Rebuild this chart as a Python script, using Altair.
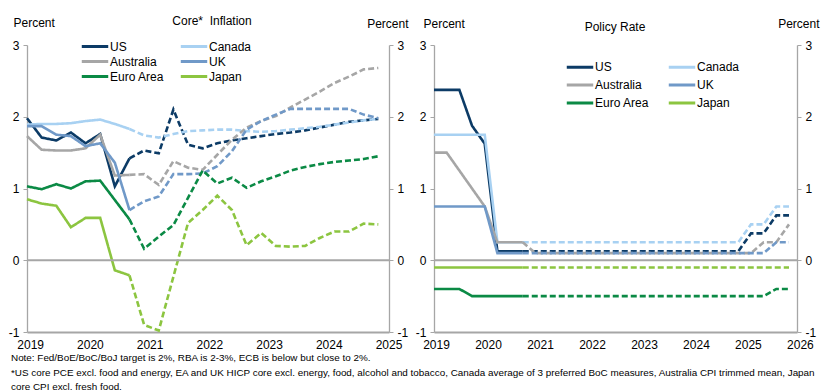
import altair as alt
import pandas as pd

# legend reads row-wise: US, Canada / Australia, UK / Euro Area, Japan (columns filled top-down)
countries = ["US", "Australia", "Euro Area", "Canada", "UK", "Japan"]
colors = ["#0c3b66", "#a6a6a6", "#0b8a45", "#a8d1f2", "#7099c8", "#8cc540"]

# Core inflation (per cent, y/y), quarterly 2018Q4 .. 2024Q4; points 0-7 actual, 7-24 projection
infl_us = [1.98, 1.71, 1.67, 1.78, 1.63, 1.76, 1.03, 1.42, 1.53, 1.49, 2.10, 1.61, 1.56,
           1.63, 1.67, 1.70, 1.73, 1.76, 1.78, 1.81, 1.85, 1.89, 1.93, 1.95, 1.97]
infl_ca = [1.89, 1.90, 1.90, 1.91, 1.94, 1.96, 1.90, 1.83, 1.74, 1.71, 1.76, 1.80, 1.81,
           1.82, 1.82, 1.80, 1.79, 1.80, 1.82, 1.84, 1.86, 1.89, 1.92, 1.95, 1.97]
infl_au = [1.73, 1.54, 1.53, 1.53, 1.56, 1.75, 1.18, 1.19, 1.20, 1.05, 1.38, 1.29, 1.26,
           1.47, 1.68, 1.85, 1.94, 2.01, 2.13, 2.24, 2.35, 2.47, 2.56, 2.66, 2.68]
infl_uk = [1.87, 1.87, 1.75, 1.73, 1.59, 1.63, 1.36, 0.70, 0.82, 0.89, 1.20, 1.20, 1.21,
           1.31, 1.52, 1.82, 1.94, 2.03, 2.11, 2.11, 2.11, 2.11, 2.11, 2.03, 1.98]
infl_ea = [1.03, 0.99, 1.06, 1.00, 1.10, 1.11, 0.84, 0.57, 0.16, 0.33, 0.49, 0.87, 1.25,
           1.07, 1.15, 1.01, 1.10, 1.17, 1.25, 1.30, 1.34, 1.37, 1.39, 1.41, 1.45]
infl_jp = [0.85, 0.79, 0.76, 0.46, 0.59, 0.59, -0.14, -0.21, -0.90, -0.98, -0.23, 0.52, 0.70,
           0.90, 0.70, 0.21, 0.38, 0.20, 0.19, 0.20, 0.31, 0.40, 0.40, 0.51, 0.50]

# Policy rate (per cent), quarterly 2018Q4 .. 2025Q4; points 0-7 actual, 7-28 projection
rate_us = [2.375, 2.375, 2.375, 1.875, 1.625] + [0.125] * 20 + [0.375, 0.375, 0.625, 0.625]
rate_ca = [1.75] * 5 + [0.25] * 20 + [0.5, 0.5, 0.75, 0.75]
rate_au = [1.5, 1.5, 1.25, 1.0, 0.75, 0.25, 0.25, 0.25] + [0.1] * 18 + [0.25, 0.25, 0.5]
rate_uk = [0.75] * 5 + [0.1] * 22 + [0.25, 0.25]
rate_ea = [-0.4, -0.4, -0.4] + [-0.5] * 24 + [-0.4, -0.4]
rate_jp = [-0.1] * 29

last_actual = 7
years_left = [2019, 2020, 2021, 2022, 2023, 2024, 2025]
years_right = [2019, 2020, 2021, 2022, 2023, 2024, 2025, 2026]
y_ticks = [-1, 0, 1, 2, 3]

title_left = "Core*\u00a0 Inflation"
title_right = "Policy Rate"
unit_label = "Percent"
notes = [
    "Note: Fed/BoE/BoC/BoJ  target is 2%, RBA is 2-3%, ECB is below but close to 2%.",
    "*US core PCE excl. food and energy, EA and UK HICP  core excl. energy, food, alcohol and tobacco, "
    "Canada average of 3 preferred BoC measures, Australia CPI trimmed mean, Japan",
    "core CPI excl. fresh food.",
]

FONT = "Liberation Sans"
GREY = "#a6a6a6"
W1, W2, H = 362, 363, 287


def long_df(series):
    rows = []
    for c, vals in zip(["US", "Canada", "Australia", "UK", "Euro Area", "Japan"], series):
        for i, v in enumerate(vals):
            if i <= last_actual:
                rows.append({"country": c, "q": i, "value": v, "seg": "actual"})
            if i >= last_actual:
                rows.append({"country": c, "q": i, "value": v, "seg": "forecast"})
    return pd.DataFrame(rows)


df_infl = long_df([infl_us, infl_ca, infl_au, infl_uk, infl_ea, infl_jp])
df_rate = long_df([rate_us, rate_ca, rate_au, rate_uk, rate_ea, rate_jp])
one = pd.DataFrame({"v": [0]})


def make_legend(lx, ly, colpad, rowh):
    return alt.Legend(orient="none", legendX=lx, legendY=ly, columns=2, title=None,
                      symbolType="stroke", symbolSize=700, symbolStrokeWidth=3,
                      labelFont=FONT, labelFontSize=12, labelColor="black",
                      labelOffset=0, columnPadding=colpad, rowPadding=0, clipHeight=rowh)


def panel(df, W, xmax, years, yoff, ystep, title, tx, ty, leg, ptl, ptr):
    xs = alt.Scale(domain=[0, xmax], nice=False, zero=False)
    ys = alt.Scale(domain=[-1, 3], nice=False, zero=False)
    xaxis = alt.Axis(labels=False, ticks=False, grid=False, title=None,
                     domainColor=GREY, domainWidth=2)
    common = dict(values=y_ticks, grid=False, tickSize=4, labelPadding=4,
                  domainColor=GREY, domainWidth=1.3, tickColor=GREY,
                  labelFont=FONT, labelFontSize=12, labelColor="black",
                  labelExpr="'' + datum.value", title=unit_label, titleAngle=0,
                  titleFont=FONT, titleFontSize=12, titleFontWeight="normal",
                  titleColor="black", titleBaseline="alphabetic")
    left_axis = alt.Axis(orient="left", titleAlign="left", titleX=ptl[0], titleY=ptl[1], **common)
    right_axis = alt.Axis(orient="right", titleAlign="right", titleX=ptr[0], titleY=ptr[1], **common)

    lines = alt.Chart(df).mark_line(strokeWidth=2.6).encode(
        x=alt.X("q:Q", scale=xs, axis=xaxis),
        y=alt.Y("value:Q", scale=ys, axis=left_axis),
        color=alt.Color("country:N", sort=countries,
                        scale=alt.Scale(domain=countries, range=colors),
                        legend=make_legend(*leg)),
        strokeDash=alt.StrokeDash("seg:N", scale=alt.Scale(domain=["actual", "forecast"],
                                                           range=[[1, 0], [6, 3]]), legend=None),
        order="q:Q",
    )
    zero = alt.Chart(one).mark_rule(color=GREY, strokeWidth=1.8).encode(
        y=alt.Y("v:Q", scale=ys, axis=right_axis))
    ydf = pd.DataFrame({"label": [str(y) for y in years],
                        "pos": [yoff + ystep * (y - years[0]) for y in years]})
    ylab = alt.Chart(ydf).mark_text(font=FONT, fontSize=12, baseline="middle", color="black").encode(
        x=alt.X("pos:Q", scale=xs, axis=xaxis), y=alt.value(H + 13), text="label:N")
    head = alt.Chart(one).mark_text(font=FONT, fontSize=12, baseline="alphabetic",
                                    align="center", color="black").encode(
        x=alt.value(tx), y=alt.value(ty), text=alt.value(title))
    return [lines, zero, ylab, head]


lp = panel(df_infl, W1, 24.73, years_left, 0.25, 4.08, title_left, 185, -20,
           (53, -6, 14, 15), (-14, -18.5), (19, -18))
note = alt.Chart(one).mark_text(font=FONT, fontSize=9.9, baseline="top", align="left",
                                color="black", lineHeight=14.5).encode(
    x=alt.value(-16), y=alt.value(H + 21), text=alt.value(notes))
left = alt.layer(*lp, note).resolve_scale(y="independent").properties(width=W1, height=H)

rp = panel(df_rate, W2, 28.63, years_right, 0.2, 4.1, title_right, 181, -14,
           (131, 13.2, 17, 17.5), (-11, -18), (22, -18))
right = alt.layer(*rp).resolve_scale(y="independent").properties(width=W2, height=H)

chart = alt.hconcat(left, right, spacing=45, bounds="flush").resolve_scale(
    color="independent").resolve_legend(color="independent").properties(
    padding={"left": 0, "top": 7, "right": 4, "bottom": 0}
).configure_view(stroke=None)

chart.save("out.html", embed_options={"renderer": "svg", "actions": False})
